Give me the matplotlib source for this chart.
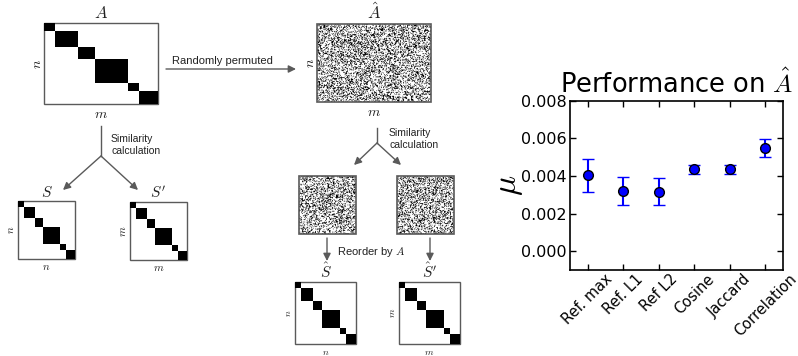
import numpy as np
import matplotlib
matplotlib.use("Agg")
import matplotlib.pyplot as plt
from matplotlib.patches import Rectangle

plt.rcParams["mathtext.fontset"] = "cm"

# chart data
methods = ["Ref. max", "Ref. L1", "Ref L2", "Cosine", "Jaccard", "Correlation"]
mu = [0.00403, 0.00320, 0.00316, 0.00436, 0.00436, 0.00549]
mu_err = [0.00086, 0.00076, 0.00072, 0.00024, 0.00024, 0.00050]

# block layout of the diagonal matrices (fractions of the side)
block_edges = [0.0, 0.10, 0.30, 0.447, 0.74, 0.837, 1.0]

LINE = "#5a5a5a"
TEXT = "#222222"


def block_matrix(ax, x0, y0, w, h):
    ax.add_patch(Rectangle((x0, y0), w, h, fill=False, ec=LINE, lw=1.0))
    for a, b in zip(block_edges[:-1], block_edges[1:]):
        ax.add_patch(Rectangle((x0 + a * w, y0 + a * h), (b - a) * w,
                               (b - a) * h, color="black", lw=0))


def noise_matrix(ax, x0, y0, w, h):
    rows, cols = int(h * 1.3), int(w * 1.3)
    i, j = np.meshgrid(np.arange(rows), np.arange(cols), indexing="ij")
    v = np.sin(i * 12.9898 + j * 78.233 + x0) * 43758.5453
    dots = ((v - np.floor(v)) > 0.68).astype(float)
    ax.imshow(dots, cmap="Greys", extent=(x0, x0 + w, y0 + h, y0),
              interpolation="antialiased", vmin=0, vmax=1.0)
    ax.add_patch(Rectangle((x0, y0), w, h, fill=False, ec=LINE, lw=1.2))


def arrow(ax, p0, p1):
    ax.annotate("", xy=p1, xytext=p0,
                arrowprops=dict(arrowstyle="-|>", color=LINE, lw=1.0,
                                mutation_scale=11, shrinkA=0, shrinkB=0))


def labels(ax, x0, y0, w, h, title, left, bottom, tsize=11, lsize=8):
    ax.text(x0 + w / 2, y0 - 1, title, ha="center", va="bottom",
            fontsize=tsize, color=TEXT)
    ax.text(x0 - 7, y0 + h / 2, left, ha="center", va="center",
            rotation=90, fontsize=lsize, color=TEXT)
    ax.text(x0 + w / 2, y0 + h + 3, bottom, ha="center", va="top",
            fontsize=lsize, color=TEXT)


fig = plt.figure(figsize=(7.98, 3.56), dpi=100)

# diagram, drawn in pixel coordinates
d = fig.add_axes([0, 0, 1, 1])
d.set_xlim(0, 798)
d.set_ylim(356, 0)
d.axis("off")

block_matrix(d, 44, 23, 114, 81)
labels(d, 44, 23, 114, 81, r"$A$", r"$n$", r"$m$", tsize=12, lsize=10)

noise_matrix(d, 317, 24, 114, 78)
labels(d, 317, 24, 114, 78, r"$\hat{A}$", r"$n$", r"$m$", tsize=12, lsize=10)

arrow(d, (166, 69), (296, 69))
d.text(222, 66, "Randomly permuted", ha="center", va="bottom",
       fontsize=8, family="Liberation Sans", color=TEXT)

# left branch
d.plot([101, 101], [126, 156], color=LINE, lw=1.0)
arrow(d, (101, 156), (63, 190))
arrow(d, (101, 156), (138, 190))
d.text(111, 145, "Similarity\ncalculation", ha="left", va="center",
       fontsize=7.5, family="Liberation Sans", color=TEXT, linespacing=1.2)

block_matrix(d, 18, 201, 57, 58)
labels(d, 18, 201, 57, 58, r"$S$", r"$n$", r"$n$", tsize=11, lsize=8)
block_matrix(d, 130, 202, 57, 58)
labels(d, 130, 202, 57, 58, r"$S'$", r"$m$", r"$m$", tsize=11, lsize=8)

# right branch
d.plot([377, 377], [128, 143], color=LINE, lw=1.0)
arrow(d, (377, 143), (354, 165))
arrow(d, (377, 143), (401, 165))
d.text(389, 139, "Similarity\ncalculation", ha="left", va="center",
       fontsize=7.5, family="Liberation Sans", color=TEXT, linespacing=1.2)

noise_matrix(d, 299, 176, 57, 58)
noise_matrix(d, 397, 176, 57, 58)

arrow(d, (327, 238), (327, 261))
arrow(d, (430, 238), (430, 261))
d.text(337, 252, r"Reorder by $\mathit{A}$", ha="left", va="center",
       fontsize=8, family="Liberation Sans", color=TEXT)

block_matrix(d, 295, 282, 61, 62)
labels(d, 295, 282, 61, 62, r"$\hat{S}$", r"$n$", r"$n$", tsize=11, lsize=7)
block_matrix(d, 399, 282, 61, 62)
labels(d, 399, 282, 61, 62, r"$\hat{S}'$", r"$m$", r"$m$", tsize=11, lsize=7)

# performance chart
ax = fig.add_axes([0.714, 0.2416, 0.267, 0.475])
x = np.arange(len(methods))
ax.errorbar(x, mu, yerr=mu_err, fmt="o", color="blue", ecolor="blue",
            mec="black", mew=1.0, ms=7, elinewidth=1.5, capsize=4,
            capthick=1.5)
ax.set_xlim(-0.5, len(methods) - 0.5)
ax.set_ylim(-0.001, 0.008)
ax.set_yticks([0.0, 0.002, 0.004, 0.006, 0.008])
ax.set_yticklabels([f"{v:.3f}" for v in ax.get_yticks()])
ax.set_xticks(x)
ax.set_xticklabels(methods, rotation=45)
ax.tick_params(direction="in", top=True, right=True, length=4, width=1,
               labelsize=11.5)
ax.tick_params(axis="y", pad=2)
ax.tick_params(axis="x", pad=1, labelsize=10.5)
for s in ax.spines.values():
    s.set_linewidth(1.2)
ax.set_ylabel(r"$\mu$", fontsize=24, labelpad=-3)
ax.set_title(r"Performance on $\hat{A}$", fontsize=18.5, pad=6)

fig.savefig("out.png", dpi=100)
